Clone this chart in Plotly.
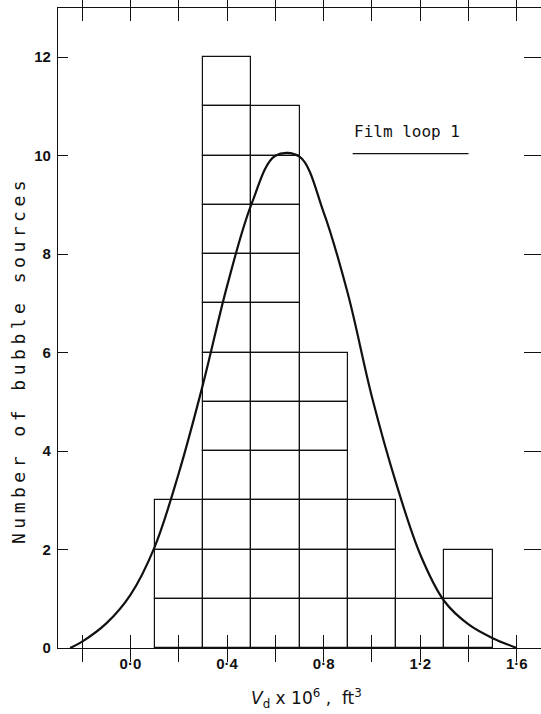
import plotly.graph_objects as go

# Histogram: bin edges (ft^3 x 1e6) and counts per bin
bin_lefts = [0.1, 0.3, 0.5, 0.7, 0.9, 1.1, 1.3]
bin_width = 0.2
counts = [3, 12, 11, 6, 3, 1, 2]

# Fitted distribution curve
curve_x = [-0.25, -0.2, -0.1, 0.0, 0.1, 0.2, 0.3, 0.4, 0.5, 0.6, 0.7, 0.8, 0.9,
           1.0, 1.1, 1.2, 1.3, 1.4, 1.5, 1.6]
curve_y = [0.0, 0.13, 0.5, 1.08, 2.05, 3.55, 5.35, 7.35, 9.0, 10.0, 9.98, 8.85, 7.2,
           5.1, 3.35, 1.9, 0.95, 0.48, 0.2, 0.0]

x_tickvals = [-0.2, 0.0, 0.2, 0.4, 0.6, 0.8, 1.0, 1.2, 1.4, 1.6]
x_ticktext = ["", "0·0", "", "0·4", "", "0·8", "", "1·2", "", "1·6"]
y_tickvals = [0, 2, 4, 6, 8, 10, 12]

# unit boxes
box_x, box_base = [], []
for left, c in zip(bin_lefts, counts):
    for k in range(c):
        box_x.append(left + bin_width / 2)
        box_base.append(k)

ink = "#111111"
fig = go.Figure()
fig.add_trace(go.Bar(
    x=box_x, y=[1] * len(box_x), base=box_base, width=bin_width,
    marker=dict(color="rgba(255,255,255,0)", line=dict(color=ink, width=1.2)),
    showlegend=False, hoverinfo="skip"))
fig.add_trace(go.Scatter(
    x=curve_x, y=curve_y, mode="lines",
    line=dict(color=ink, width=2.2, shape="spline", smoothing=1.0),
    showlegend=False, hoverinfo="skip"))
# invisible trace for right-side axis ticks
fig.add_trace(go.Scatter(x=[None], y=[None], yaxis="y2", showlegend=False))

tickfont = dict(family="Liberation Sans", size=15, color=ink, weight="bold")
fig.update_layout(
    width=541, height=714,
    margin=dict(l=58, r=0, t=8, b=66),
    paper_bgcolor="white", plot_bgcolor="white",
    font=dict(family="DejaVu Sans Mono", color=ink),
    xaxis=dict(range=[-0.3, 1.7], tickvals=x_tickvals, ticktext=x_ticktext,
               ticks="inside", ticklen=13, tickwidth=1, tickcolor=ink,
               showline=True, linecolor=ink, linewidth=1.2, mirror="allticks",
               showgrid=False, zeroline=False, tickfont=tickfont, ticklabelstandoff=2),
    yaxis=dict(range=[0, 13], tickvals=y_tickvals, ticks="inside", ticklen=10,
               tickwidth=1, tickcolor=ink, showline=True, linecolor=ink, linewidth=1.2,
               mirror=False, showgrid=False, zeroline=False, tickfont=tickfont,
               ticklabelstandoff=3),
    yaxis2=dict(range=[0, 13], tickvals=y_tickvals[1:], overlaying="y", side="right",
                ticks="inside", ticklen=17, tickwidth=1.2, tickcolor=ink,
                showticklabels=False, showline=False, showgrid=False, zeroline=False),
    bargap=0,
    annotations=[
        dict(text='<span style="letter-spacing:4.5px">Number of bubble sources</span>',
             xref="paper", yref="paper", xanchor="center", yanchor="middle",
             x=(18 - 58) / 483, y=(648 - 360) / 640, textangle=-90, showarrow=False,
             font=dict(family="DejaVu Sans Mono", size=18, color=ink)),
        dict(text="<i>V</i><sub>d</sub> x 10<sup>6</sup> ,  ft<sup>3</sup>",
             xref="paper", yref="paper", xanchor="center", yanchor="middle",
             x=(306 - 58) / 483, y=(648 - 698) / 640,
             showarrow=False, font=dict(family="DejaVu Sans", size=17, color=ink)),
        dict(text="Film loop 1", x=1.145, y=10.5, xref="x", yref="y", showarrow=False,
             font=dict(family="DejaVu Sans Mono", size=16, color=ink)),
    ],
    shapes=[dict(type="line", xref="x", yref="y", x0=0.92, x1=1.4, y0=10.04, y1=10.04,
                 line=dict(color=ink, width=1.2))],
)
fig.write_html("out.html")
